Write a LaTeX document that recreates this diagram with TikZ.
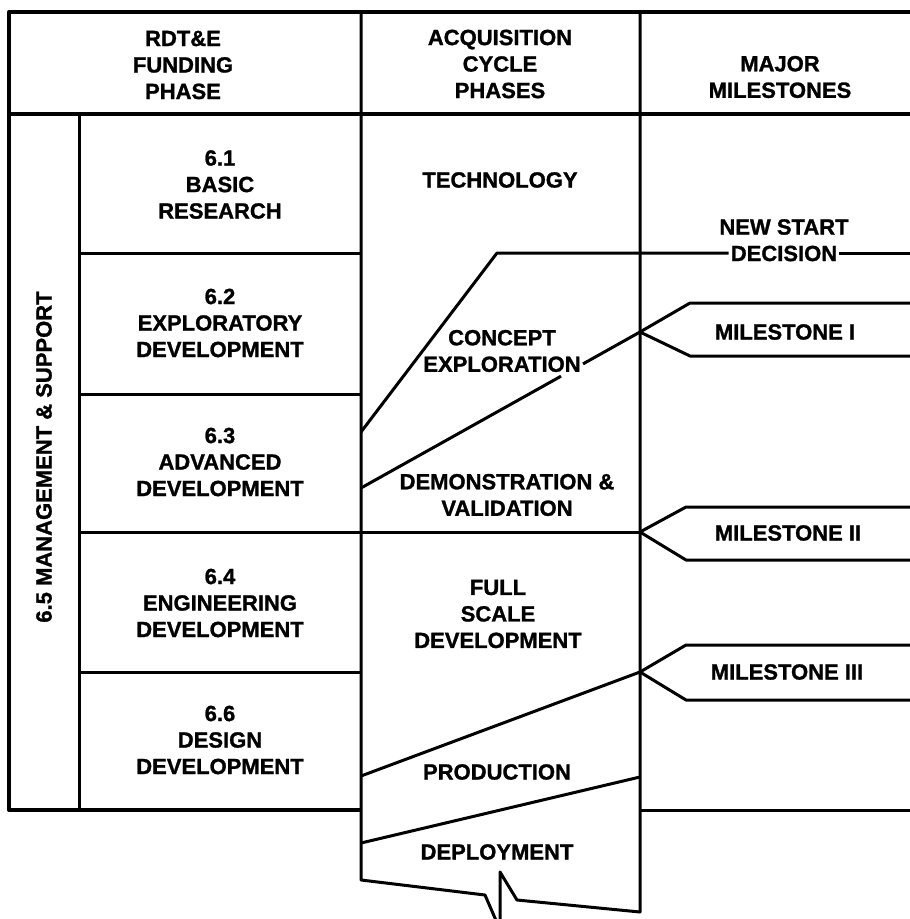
\documentclass[tikz,border=0pt]{standalone}
\usepackage{fontspec}
\setmainfont{Liberation Sans}[BoldFeatures={FakeBold=1.2}]
\begin{document}
\begin{tikzpicture}[x=1pt,y=-1pt,
  rule/.style={line width=3pt, line join=round},
  heavy/.style={line width=4pt, line join=round},
  lbl/.style={font=\bfseries\fontsize{22}{26.5}\selectfont, align=center, inner sep=1pt},
]
\useasboundingbox (0,0) rectangle (910,919);

% ---- outer frame and header ----
\draw[heavy] (910,12) -- (9,12) -- (9,810) -- (361,810);
\draw[heavy] (9,114) -- (910,114);
\draw[rule] (640,810) -- (910,810);

% ---- column rules, with the broken bottom of the deployment strip ----
\draw[rule] (79,114) -- (79,810);
\draw[rule] (361,12) -- (361,880) -- (485,895) -- (498,925);
\draw[rule] (640,12) -- (640,912) -- (517,900) -- (500,872) -- (500,925);

% ---- funding phase rows ----
\draw[rule] (79,253) -- (361,253);
\draw[rule] (79,394) -- (361,394);
\draw[rule] (79,532) -- (640,532);
\draw[rule] (79,672) -- (361,672);

% ---- header texts ----
\node[lbl] (hfund) at (183,65) {RDT\&E\\FUNDING\\PHASE};
\node[lbl] (hacq) at (500,64) {ACQUISITION\\CYCLE\\PHASES};
\node[lbl] (hmile) at (780,77) {MAJOR\\MILESTONES};

% ---- funding phases ----
\node[lbl, rotate=90] (mgmt) at (44,457) {6.5 MANAGEMENT \& SUPPORT};
\node[lbl] (f61) at (220,184.5) {6.1\\BASIC\\RESEARCH};
\node[lbl] (f62) at (220,323) {6.2\\EXPLORATORY\\DEVELOPMENT};
\node[lbl] (f63) at (220,462) {6.3\\ADVANCED\\DEVELOPMENT};
\node[lbl] (f64) at (220,603) {6.4\\ENGINEERING\\DEVELOPMENT};
\node[lbl] (f66) at (220,740) {6.6\\DESIGN\\DEVELOPMENT};

% ---- acquisition phases ----
\node[lbl] (tech) at (500,180) {TECHNOLOGY};
\node[lbl] (concept) at (502,351) {CONCEPT\\EXPLORATION};
\node[lbl] (demval) at (507,495) {DEMONSTRATION \&\\VALIDATION};
\node[lbl] (fsd) at (498,614) {FULL\\SCALE\\DEVELOPMENT};
\node[lbl] (prod) at (497,772) {PRODUCTION};
\node[lbl] (deploy) at (497,852) {DEPLOYMENT};

% ---- milestones ----
\node[lbl] (newstart) at (784,227) {NEW START};
\node[lbl, inner xsep=2pt] (decision) at (784,253.5) {DECISION};
\node[lbl] (m1) at (785,332) {MILESTONE I};
\node[lbl] (m2) at (788,533) {MILESTONE II};
\node[lbl] (m3) at (787,672) {MILESTONE III};

% new start decision line
\coordinate (nsA) at (361,432);
\coordinate (nsB) at (497,253);
\coordinate (nsE) at (910,253);
\draw[rule] (nsA) -- (nsB) -- (nsB -| decision.west);
\draw[rule] (decision.east |- nsE) -- (nsE);

% milestone I line, broken at the end of EXPLORATION
\coordinate (p1) at (640,332);
\draw[rule] (361,488) -- (561,376.2);
\draw[rule] (583,363.9) -- (p1);
\draw[rule] (910,303) -- (690,303) -- (p1) -- (690,356) -- (910,356);

% milestone II
\coordinate (p2) at (640,532);
\draw[rule] (910,507) -- (686,507) -- (p2) -- (686,560) -- (910,560);

% milestone III and production lines
\coordinate (p3) at (640,672);
\draw[rule] (361,776) -- (p3);
\draw[rule] (910,645) -- (686,645) -- (p3) -- (686,700) -- (910,700);
\draw[rule] (361,843) -- (640,777);
\end{tikzpicture}
\end{document}
